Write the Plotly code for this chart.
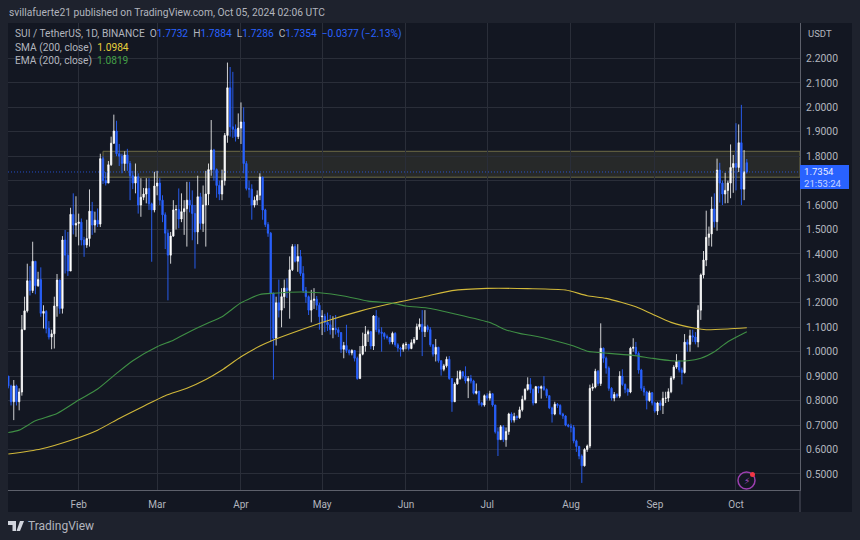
import pandas as pd
import plotly.graph_objects as go

closes = [
 .86,.795,.86,.795,.835,1.09,1.167,1.29,1.25,1.37,
 1.27,1.295,1.157,1.165,1.095,1.06,1.073,1.187,1.293,1.177,
 1.457,1.395,1.33,1.562,1.518,1.525,1.53,1.457,1.437,1.463,
 1.575,1.518,1.538,1.522,1.79,1.70,1.69,1.765,1.853,1.903,
 1.81,1.80,1.77,1.805,1.77,1.72,1.69,1.716,1.60,1.632,
 1.645,1.668,1.605,1.58,1.678,1.69,1.62,1.56,1.485,1.395,
 1.473,1.58,1.582,1.543,1.573,1.585,1.62,1.60,1.565,1.49,
 1.634,1.525,1.60,1.645,1.745,1.825,1.745,1.68,1.645,1.70,
 1.885,2.08,1.92,1.91,1.88,1.915,1.94,1.77,1.668,1.665,
 1.60,1.62,1.64,1.715,1.58,1.52,1.485,1.24,1.055,1.2,
 1.17,1.225,1.26,1.25,1.335,1.43,1.37,1.39,1.32,1.25,
 1.225,1.17,1.21,1.215,1.19,1.143,1.145,1.12,1.11,1.09,
 1.095,1.09,1.078,1.01,1.025,1.005,.995,1.005,.973,.89,
 .99,1.023,1.072,1.082,1.023,1.146,1.09,1.08,1.075,1.062,
 1.058,1.04,1.075,1.028,1.015,1.01,1.028,1.03,1.013,1.037,
 1.05,1.102,1.112,1.082,1.102,1.09,1.028,.99,1.018,.963,
 .928,.942,.969,.89,.795,.868,.89,.918,.90,.88,
 .89,.88,.83,.838,.79,.782,.82,.81,.828,.782,
 .672,.64,.693,.64,.673,.745,.72,.735,.73,.762,
 .805,.846,.866,.845,.79,.857,.85,.857,.845,.82,
 .77,.745,.785,.78,.745,.737,.70,.695,.69,.635,
 .612,.573,.533,.60,.614,.85,.855,.92,.87,1.014,
 .973,.933,.85,.81,.825,.818,.90,.866,.846,.835,
 1.014,1.018,.993,.925,.85,.835,.80,.832,.79,.757,
 .79,.78,.809,.81,.836,.892,.937,.96,.925,.915,
 1.039,1.03,1.065,1.06,1.04,1.17,1.314,1.375,1.468,1.482,
 1.584,1.532,1.743,1.69,1.645,1.66,1.69,1.754,1.77,1.754,
 1.855,1.665,1.736,1.7354]
highs = [
 .90,.865,.884,.865,.85,1.15,1.225,1.36,1.35,1.45,
 1.37,1.327,1.345,1.19,1.17,1.125,1.09,1.225,1.318,1.295,
 1.473,1.498,1.49,1.589,1.648,1.636,1.565,1.545,1.47,1.54,
 1.664,1.613,1.573,1.586,1.81,1.80,1.735,1.78,1.88,1.97,
 1.945,1.85,1.81,1.82,1.83,1.78,1.74,1.77,1.73,1.71,
 1.67,1.71,1.71,1.61,1.736,1.74,1.71,1.64,1.57,1.50,
 1.49,1.62,1.60,1.668,1.648,1.62,1.695,1.695,1.66,1.60,
 1.72,1.65,1.68,1.74,1.77,1.948,1.83,1.75,1.70,1.745,
 1.895,2.183,2.165,2.145,1.93,1.975,2.02,2.0,1.78,1.70,
 1.685,1.635,1.66,1.73,1.71,1.585,1.53,1.49,1.24,1.225,
 1.295,1.26,1.295,1.30,1.39,1.44,1.44,1.44,1.416,1.35,
 1.265,1.23,1.253,1.26,1.228,1.20,1.17,1.155,1.16,1.15,
 1.145,1.15,1.10,1.08,1.04,1.11,1.01,1.01,1.005,.98,
 1.023,1.078,1.105,1.09,1.085,1.15,1.17,1.14,1.10,1.08,
 1.07,1.06,1.082,1.08,1.035,1.02,1.035,1.04,1.03,1.05,
 1.06,1.115,1.136,1.17,1.17,1.11,1.10,1.03,1.052,1.02,
 .965,.95,.98,.982,.89,.875,.922,.925,.92,.94,
 .90,.905,.885,.87,.84,.795,.825,.83,.84,.83,
 .78,.69,.70,.70,.69,.75,.752,.75,.74,.775,
 .82,.85,.895,.892,.85,.86,.86,.862,.90,.85,
 .82,.775,.795,.79,.785,.75,.74,.705,.705,.70,
 .64,.615,.58,.605,.62,.865,.87,.93,.925,1.116,
 1.017,.98,.94,.855,.835,.83,.92,.928,.87,.85,
 1.02,1.055,1.04,1.0,.93,.86,.84,.84,.835,.795,
 .795,.80,.836,.836,.85,.90,.945,.99,.965,.935,
 1.072,1.05,1.09,1.09,1.08,1.19,1.32,1.412,1.577,1.512,
 1.634,1.648,1.79,1.773,1.70,1.732,1.70,1.848,1.805,1.935,
 1.93,2.01,1.825,1.7884]
lows = [
 .85,.78,.72,.78,.76,.82,1.09,1.16,1.23,1.24,
 1.235,1.265,1.143,1.095,1.075,1.05,1.01,1.013,1.143,1.155,
 1.156,1.32,1.31,1.33,1.48,1.47,1.435,1.435,1.388,1.425,
 1.43,1.478,1.487,1.51,1.51,1.686,1.68,1.69,1.76,1.85,
 1.80,1.76,1.73,1.74,1.74,1.62,1.665,1.648,1.565,1.552,
 1.62,1.607,1.58,1.368,1.57,1.64,1.60,1.53,1.42,1.21,
 1.36,1.47,1.50,1.505,1.53,1.478,1.43,1.57,1.456,1.34,
 1.44,1.50,1.49,1.43,1.60,1.72,1.70,1.63,1.62,1.62,
 1.68,1.855,1.88,1.875,1.86,1.87,1.85,1.73,1.66,1.63,
 1.54,1.59,1.60,1.62,1.54,1.51,1.47,1.04,.886,1.025,
 1.14,1.10,1.178,1.22,1.135,1.33,1.365,1.327,1.31,1.24,
 1.20,1.15,1.12,1.175,1.17,1.09,1.068,1.08,1.085,1.07,
 1.055,1.07,1.06,.995,.973,.995,.985,.985,.96,.885,
 .89,.985,1.0,1.04,1.01,1.007,1.08,1.07,1.0,1.05,
 1.05,1.03,1.03,1.02,1.0,.98,1.0,1.01,1.005,1.01,
 1.03,1.05,1.09,.982,1.06,1.08,1.02,.98,.96,.955,
 .902,.92,.935,.885,.754,.795,.865,.885,.89,.87,
 .81,.87,.825,.825,.78,.775,.775,.80,.80,.775,
 .665,.573,.64,.63,.611,.66,.71,.71,.72,.725,
 .755,.80,.84,.83,.78,.795,.83,.808,.84,.81,
 .765,.71,.74,.77,.74,.725,.695,.69,.67,.625,
 .59,.56,.463,.53,.59,.605,.84,.85,.86,.86,
 .955,.91,.84,.80,.797,.81,.81,.86,.83,.82,
 .83,1.0,.985,.91,.84,.82,.764,.795,.78,.75,
 .741,.76,.745,.79,.795,.83,.885,.93,.915,.866,
 .91,1.0,1.0,1.04,1.03,1.018,1.13,1.30,1.35,1.433,
 1.43,1.508,1.495,1.61,1.60,1.607,1.608,1.628,1.65,1.66,
 1.735,1.60,1.62,1.7286]
first_open = 0.90
last_open = 1.7732
opens = [first_open] + closes[:-1]
opens[-1] = last_open
dates = pd.date_range("2024-01-06", periods=len(closes), freq="D")

ema_days = [0,4,10,18,26,33,40,46,55,61,67,73,79,86,93,98,108,115,124,133,142,147,156,164,178,184,189,193,201,209,214,222,231,238,245,251,256,261,266,273]
ema_vals = [.669,.679,.717,.747,.802,.847,.911,.963,1.02,1.047,1.082,1.113,1.143,1.20,1.234,1.239,1.244,1.241,1.228,1.207,1.198,1.187,1.177,1.157,1.119,1.089,1.075,1.067,1.048,1.023,1.002,.993,.985,.973,.963,.963,.973,1.0,1.041,1.082]
sma_days = [0,12,24,33,41,50,58,66,73,79,86,93,98,108,118,130,142,155,164,177,192,206,214,221,232,238,245,254,258,266,273]
sma_vals = [.581,.602,.641,.679,.727,.777,.82,.85,.886,.925,.979,1.023,1.048,1.089,1.127,1.166,1.198,1.228,1.25,1.259,1.258,1.2525,1.229,1.218,1.184,1.154,1.12,1.096,1.09,1.093,1.098]

y_ticks = [.5,.6,.7,.8,.9,1.0,1.1,1.2,1.3,1.4,1.5,1.6,1.7,1.8,1.9,2.0,2.1,2.2]
y_labels = ["0.5000","0.6000","0.7000","0.8000","0.9000","1.0000","1.1000","1.2000","1.3000","1.4000","1.5000","1.6000","","1.8000","1.9000","2.0000","2.1000","2.2000"]
x_ticks = ["2024-02-01","2024-03-01","2024-04-01","2024-05-01","2024-06-01","2024-07-01","2024-08-01","2024-09-01","2024-10-01"]
x_labels = ["Feb","Mar","Apr","May","Jun","Jul","Aug","Sep","Oct"]
zone_top, zone_bottom = 1.82, 1.714
zone_start = "2024-02-10"
x_range = ["2024-01-05 21:00", "2024-10-24 16:00"]

BG, PANEL, GRID = "#1e222d", "#131722", "#2a2e39"
BLUE, TXT = "#2962ff", "#b2b5be"
FONT = "Roboto, Inter, sans-serif"
L, R, T, B = 8, 800, 23, 490
px = lambda X: (X - L) / (R - L)
py = lambda Y: (B - Y) / (B - T)

fig = go.Figure()
fig.add_trace(go.Scatter(x=[dates[i] for i in sma_days], y=sma_vals, mode="lines",
                         line=dict(color="#d1b83a", width=1.1, shape="spline", smoothing=0.6), hoverinfo="skip"))
fig.add_trace(go.Scatter(x=[dates[i] for i in ema_days], y=ema_vals, mode="lines",
                         line=dict(color="#3f8f45", width=1.1, shape="spline", smoothing=0.6), hoverinfo="skip"))
fig.add_trace(go.Candlestick(
    x=dates, open=opens,
    high=[max(h, o, c) for h, o, c in zip(highs, opens, closes)],
    low=[min(l, o, c) for l, o, c in zip(lows, opens, closes)],
    close=closes,
    increasing=dict(line=dict(color="rgba(255,255,255,0.8)", width=1), fillcolor="#ffffff"),
    decreasing=dict(line=dict(color="rgba(41,98,255,0.9)", width=1), fillcolor=BLUE),
))

shapes = [
    dict(type="rect", xref="paper", yref="paper", x0=0, x1=px(852), y0=py(512), y1=py(T),
         fillcolor=PANEL, line=dict(width=0), layer="below"),
    dict(type="rect", xref="x", yref="y", x0=zone_start, x1=x_range[1], y0=zone_bottom, y1=zone_top,
         fillcolor="rgba(120,115,70,0.2)", line=dict(color="#6d6a45", width=1), layer="below"),
    dict(type="line", xref="paper", yref="y", x0=0, x1=1, y0=closes[-1], y1=closes[-1],
         line=dict(color="rgba(41,98,255,0.75)", width=1, dash="1px,2px")),
    dict(type="rect", xref="paper", yref="paper", x0=px(800), x1=px(849), y0=py(189), y1=py(165),
         fillcolor=BLUE, line=dict(width=0)),
    dict(type="line", xref="paper", yref="paper", x0=1, x1=1, y0=py(512), y1=0,
         line=dict(color="#50535e", width=1)),
    # alert icon
    dict(type="circle", xref="paper", yref="paper", x0=px(738), x1=px(755), y0=py(489), y1=py(472),
         fillcolor="rgba(0,0,0,0)", line=dict(color="#9c3fb0", width=1.5)),
    dict(type="circle", xref="paper", yref="paper", x0=px(750), x1=px(755), y0=py(477), y1=py(472),
         fillcolor="#f23645", line=dict(width=0)),
    # TradingView mark
    dict(type="path", xref="paper", yref="paper",
         path=f"M {px(8)} {py(521)} L {px(16)} {py(521)} L {px(16)} {py(531)} L {px(12.5)} {py(531)} "
              f"L {px(12.5)} {py(525)} L {px(8)} {py(525)} Z",
         fillcolor="#d1d4dc", line=dict(width=0)),
    dict(type="path", xref="paper", yref="paper",
         path=f"M {px(20)} {py(521)} L {px(24)} {py(521)} L {px(20)} {py(531)} L {px(16.5)} {py(531)} Z",
         fillcolor="#d1d4dc", line=dict(width=0)),
]

def note(X, Y, text, size=10.2, color=TXT, anchor="left", font=FONT):
    return dict(xref="paper", yref="paper", x=px(X), y=py(Y), text=text, showarrow=False,
                xanchor=anchor, yanchor="middle", font=dict(size=size, color=color, family=font), align="left",
                xshift=-1 if anchor == "left" else 0)

c_sp = lambda s, col: f'<span style="color:{col}">{s}</span>'
annotations = [
    note(8, 12, "svillafuerte21 published on TradingView.com, Oct 05, 2024 02:06 UTC", 10.25),
    note(14, 34, "SUI / TetherUS, 1D, BINANCE  O" + c_sp("1.7732", BLUE) + "  H" + c_sp("1.7884", BLUE)
         + "  L" + c_sp("1.7286", BLUE) + "  C" + c_sp("1.7354", BLUE) + "  " + c_sp("−0.0377 (−2.13%)", BLUE), 10.2),
    note(14, 48, "SMA (200, close)  " + c_sp("1.0984", "#e6cf3c"), 10.2),
    note(14, 61, "EMA (200, close)  " + c_sp("1.0819", "#43a047"), 10.2),
    note(820, 34, "USDT", 9.5, anchor="center"),
    note(823, 177, "1.7354<br>" + c_sp("21:53:24", "#c6d3ff"), 9.6, "#e8ecff", "center"),
    note(746.5, 481, "⚡", 9, "#b04fc8", "center", "DejaVu Sans"),
    note(27, 526, "TradingView", 12, "#b2b5be"),
]

fig.update_layout(
    width=860, height=540, margin=dict(l=L, r=860 - R, t=T, b=540 - B),
    paper_bgcolor=BG, plot_bgcolor=PANEL, showlegend=False,
    font=dict(family=FONT, color=TXT, size=10.5), shapes=shapes, annotations=annotations,
    xaxis=dict(range=x_range, tickmode="array", tickvals=x_ticks, ticktext=x_labels,
               gridcolor=GRID, gridwidth=1, showline=True, linecolor="#5d606b", ticks="", rangeslider=dict(visible=False),
               zeroline=False, ticklabelstandoff=5, tickfont=dict(size=10, color=TXT)),
    yaxis=dict(range=[0.434, 2.345], side="right", tickmode="array", tickvals=y_ticks, ticktext=y_labels,
               gridcolor=GRID, gridwidth=1, showline=True, linecolor="#5d606b", ticks="", zeroline=False,
               ticklabelstandoff=3, tickfont=dict(size=10.4, color=TXT)),
)
fig.write_html("out.html", config=dict(displayModeBar=False), post_script="document.body.style.margin='0';")
